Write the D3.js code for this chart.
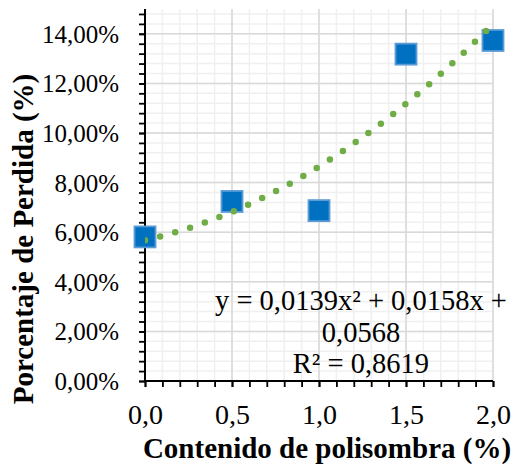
<!DOCTYPE html>
<html>
<head>
<meta charset="utf-8">
<script src="https://cdn.jsdelivr.net/npm/d3@7"></script>
<style>
  body { margin: 0; background: #fff; }
  text { font-family: "Liberation Serif", "Times New Roman", serif; fill: #000; }
</style>
</head>
<body>
<div id="chart"></div>
<script>
// data
var xValues = [0, 0.5, 1.0, 1.5, 2.0];
var yValues = [0.0581, 0.0724, 0.0687, 0.1318, 0.1373];
// trendline coefficients (from the label): a*x^2 + b*x + c
var trendCoef = [0.0139, 0.0158, 0.0568];
var eqLines = ["y = 0,0139x² + 0,0158x +", "0,0568", "R² = 0,8619"];
var xMajorTicks = [0, 0.5, 1.0, 1.5, 2.0];
var yMajorTicks = [0, 0.02, 0.04, 0.06, 0.08, 0.10, 0.12, 0.14];

// set the dimensions and margins of the graph
var margin = { top: 9, right: 22, bottom: 85, left: 145 },
    width = 515 - margin.left - margin.right,
    height = 466 - margin.top - margin.bottom;

var locale = d3.formatLocale({ decimal: ",", thousands: ".", grouping: [3], currency: ["", "€"] });
var fmtY = locale.format(".2%");
var fmtX = locale.format(".1f");

var svg = d3.select("#chart")
    .append("svg")
    .attr("width", 515)
    .attr("height", 466);

var g = svg.append("g")
    .attr("transform", "translate(" + margin.left + "," + margin.top + ")");

var x = d3.scaleLinear().domain([0, 2]).range([0, width]);
var y = d3.scaleLinear().domain([0, 0.15]).range([height, 0]);

var xMinor = d3.range(0, 2.0001, 0.1);
var yMinor = d3.range(0, 0.15001, 0.004);

// minor grid
g.append("g").selectAll("line.vmin")
    .data(xMinor).enter().append("line")
    .attr("x1", d => x(d)).attr("x2", d => x(d))
    .attr("y1", 0).attr("y2", height)
    .attr("stroke", "#f0f0f0").attr("stroke-width", 1.5);
g.append("g").selectAll("line.hmin")
    .data(yMinor).enter().append("line")
    .attr("x1", 0).attr("x2", width)
    .attr("y1", d => y(d)).attr("y2", d => y(d))
    .attr("stroke", "#f0f0f0").attr("stroke-width", 1.5);

// major grid
g.append("g").selectAll("line.vmaj")
    .data(xMajorTicks).enter().append("line")
    .attr("x1", d => x(d)).attr("x2", d => x(d))
    .attr("y1", 0).attr("y2", height)
    .attr("stroke", "#d9d9d9").attr("stroke-width", 1.5);
g.append("g").selectAll("line.hmaj")
    .data(yMajorTicks).enter().append("line")
    .attr("x1", 0).attr("x2", width)
    .attr("y1", d => y(d)).attr("y2", d => y(d))
    .attr("stroke", "#d9d9d9").attr("stroke-width", 1.5);

// X axis: minor ticks, then labelled ones
var xAxisMinor = g.append("g")
    .attr("transform", "translate(0," + height + ")")
    .call(d3.axisBottom(x).tickValues(xMinor).tickSize(6).tickFormat(""));
var xAxis = g.append("g")
    .attr("transform", "translate(0," + height + ")")
    .call(d3.axisBottom(x).tickValues(xMajorTicks).tickSize(6).tickFormat(fmtX));
xAxis.selectAll("text")
    .attr("y", 43).attr("dy", 0)
    .style("font-size", "28px");

// Y axis
var yAxisMinor = g.append("g")
    .call(d3.axisLeft(y).tickValues(yMinor).tickSize(6).tickFormat(""));
var yAxis = g.append("g")
    .call(d3.axisLeft(y).tickValues(yMajorTicks).tickSize(6).tickPadding(20).tickFormat(fmtY));
yAxis.selectAll("text")
    .attr("dy", "0.34em")
    .style("font-size", "25px");

[xAxisMinor, xAxis, yAxisMinor, yAxis].forEach(function (a) {
    a.selectAll("path.domain").attr("stroke", "#000").attr("stroke-width", 2);
    a.selectAll(".tick line").attr("stroke", "#000").attr("stroke-width", 1.8);
});
xAxisMinor.select("path.domain").attr("d", "M0,0H" + width);
yAxisMinor.select("path.domain").attr("d", "M0," + height + "V0");
xAxis.select("path.domain").attr("d", "M0,0H" + width);
yAxis.select("path.domain").attr("d", "M0," + height + "V0");

// markers
var pts = xValues.map((v, i) => ({ x: v, y: yValues[i] }));
var msize = 21;
g.append("g").selectAll("rect")
    .data(pts).enter().append("rect")
    .attr("x", d => x(d.x) - msize / 2)
    .attr("y", d => y(d.y) - msize / 2)
    .attr("width", msize).attr("height", msize)
    .attr("fill", "#0070c0")
    .attr("stroke", "#5b9bd5")
    .attr("stroke-width", 1.8);

// clip for the trendline
g.append("defs").append("clipPath")
    .attr("id", "clip")
    .append("rect")
    .attr("width", width).attr("height", height);

var trendFn = v => trendCoef[0] * v * v + trendCoef[1] * v + trendCoef[2];
var trend = d3.range(0, 2.0001, 0.02).map(v => ({ x: v, y: trendFn(v) }));
var trendLine = d3.line().x(d => x(d.x)).y(d => y(d.y));

// dot spacing: 26 gaps between x=0 and x=1.96, as in the picture
var probe = g.append("path")
    .attr("d", trendLine(d3.range(0, 1.9601, 0.02).map(v => ({ x: v, y: trendFn(v) }))));
var period = probe.node().getTotalLength() / 26;
probe.remove();

g.append("path")
    .datum(trend)
    .attr("clip-path", "url(#clip)")
    .attr("fill", "none")
    .attr("stroke", "#70ad47")
    .attr("stroke-width", 6.5)
    .attr("stroke-linecap", "round")
    .attr("stroke-dasharray", "0 " + period)
    .attr("d", trendLine);

// equation label
var eq = svg.append("text")
    .attr("text-anchor", "middle")
    .style("font-size", "28.5px");
eqLines.forEach(function (t, i) {
    eq.append("tspan")
        .attr("x", 361)
        .attr("y", 310 + i * 31.5)
        .text(t);
});

// axis titles
svg.append("text")
    .attr("x", 327)
    .attr("y", 458)
    .attr("text-anchor", "middle")
    .style("font-size", "29px")
    .style("font-weight", "bold")
    .text("Contenido de polisombra (%)");

svg.append("text")
    .attr("transform", "translate(33,239) rotate(-90)")
    .attr("text-anchor", "middle")
    .style("font-size", "29px")
    .style("font-weight", "bold")
    .text("Porcentaje de Perdida (%)");
</script>
</body>
</html>
